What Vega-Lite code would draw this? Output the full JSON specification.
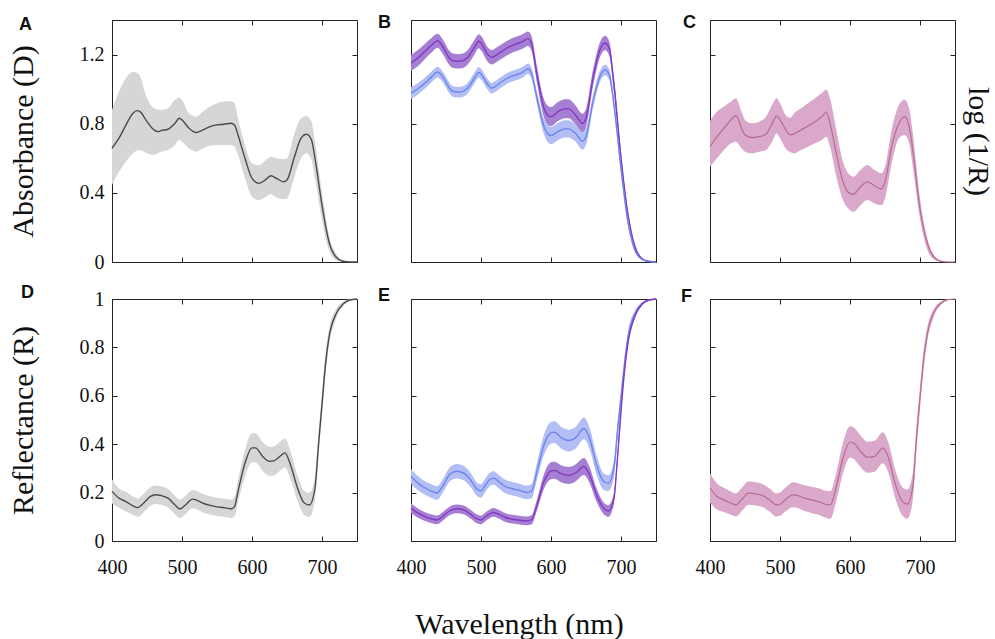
{
"$schema": "https://vega.github.io/schema/vega-lite/v6.json",
"background": "white",
"padding": {"left": 7, "top": 13, "right": 3, "bottom": 5},
"config": {
  "view": {"stroke": "#222", "strokeWidth": 1},
  "axis": {"domain": false, "grid": false, "tickSize": -5, "tickColor": "#222", "labelFlush": false, "labelFont": "Liberation Serif", "labelFontSize": 20, "labelColor": "#111", "labelPadding": 13, "titleFont": "Liberation Serif", "titleFontSize": 30, "titleFontWeight": "normal", "titleColor": "#111"},
  "title": {"font": "Liberation Sans", "fontSize": 18, "fontWeight": "bold", "anchor": "start", "frame": "group", "color": "#111"}
},
"datasets": {
"A": [
{"s":"g","wl":400,"m":0.658,"hi":0.880,"lo":0.445},
{"s":"g","wl":410,"m":0.716,"hi":0.986,"lo":0.522},
{"s":"g","wl":420,"m":0.793,"hi":1.064,"lo":0.580},
{"s":"g","wl":430,"m":0.861,"hi":1.099,"lo":0.629},
{"s":"g","wl":436,"m":0.876,"hi":1.095,"lo":0.645},
{"s":"g","wl":440,"m":0.870,"hi":1.074,"lo":0.648},
{"s":"g","wl":450,"m":0.812,"hi":0.948,"lo":0.629},
{"s":"g","wl":460,"m":0.764,"hi":0.890,"lo":0.619},
{"s":"g","wl":466,"m":0.754,"hi":0.882,"lo":0.630},
{"s":"g","wl":470,"m":0.760,"hi":0.880,"lo":0.638},
{"s":"g","wl":480,"m":0.768,"hi":0.890,"lo":0.648},
{"s":"g","wl":490,"m":0.803,"hi":0.938,"lo":0.677},
{"s":"g","wl":496,"m":0.832,"hi":0.952,"lo":0.706},
{"s":"g","wl":500,"m":0.822,"hi":0.938,"lo":0.696},
{"s":"g","wl":510,"m":0.774,"hi":0.861,"lo":0.658},
{"s":"g","wl":520,"m":0.749,"hi":0.841,"lo":0.638},
{"s":"g","wl":530,"m":0.764,"hi":0.870,"lo":0.658},
{"s":"g","wl":540,"m":0.783,"hi":0.899,"lo":0.673},
{"s":"g","wl":550,"m":0.793,"hi":0.919,"lo":0.677},
{"s":"g","wl":560,"m":0.797,"hi":0.928,"lo":0.677},
{"s":"g","wl":570,"m":0.803,"hi":0.932,"lo":0.677},
{"s":"g","wl":575,"m":0.793,"hi":0.919,"lo":0.667},
{"s":"g","wl":580,"m":0.735,"hi":0.832,"lo":0.619},
{"s":"g","wl":590,"m":0.600,"hi":0.677,"lo":0.484},
{"s":"g","wl":600,"m":0.484,"hi":0.571,"lo":0.377},
{"s":"g","wl":610,"m":0.455,"hi":0.561,"lo":0.358},
{"s":"g","wl":620,"m":0.478,"hi":0.590,"lo":0.377},
{"s":"g","wl":627,"m":0.499,"hi":0.609,"lo":0.393},
{"s":"g","wl":635,"m":0.484,"hi":0.600,"lo":0.372},
{"s":"g","wl":645,"m":0.464,"hi":0.595,"lo":0.365},
{"s":"g","wl":650,"m":0.474,"hi":0.600,"lo":0.368},
{"s":"g","wl":660,"m":0.600,"hi":0.735,"lo":0.484},
{"s":"g","wl":670,"m":0.716,"hi":0.832,"lo":0.600},
{"s":"g","wl":678,"m":0.739,"hi":0.845,"lo":0.629},
{"s":"g","wl":685,"m":0.706,"hi":0.812,"lo":0.590},
{"s":"g","wl":690,"m":0.600,"hi":0.696,"lo":0.484},
{"s":"g","wl":700,"m":0.329,"hi":0.406,"lo":0.242},
{"s":"g","wl":710,"m":0.116,"hi":0.155,"lo":0.068},
{"s":"g","wl":720,"m":0.029,"hi":0.048,"lo":0.010},
{"s":"g","wl":730,"m":0.004,"hi":0.010,"lo":0.000},
{"s":"g","wl":740,"m":0.000,"hi":0.002,"lo":0.000},
{"s":"g","wl":750,"m":0.000,"hi":0.000,"lo":0.000}
],
"B": [
{"s":"p","wl":400,"m":1.151,"hi":1.199,"lo":1.103},
{"s":"p","wl":410,"m":1.180,"hi":1.226,"lo":1.134},
{"s":"p","wl":420,"m":1.219,"hi":1.263,"lo":1.175},
{"s":"p","wl":430,"m":1.257,"hi":1.299,"lo":1.215},
{"s":"p","wl":438,"m":1.280,"hi":1.320,"lo":1.240},
{"s":"p","wl":445,"m":1.248,"hi":1.290,"lo":1.206},
{"s":"p","wl":455,"m":1.180,"hi":1.222,"lo":1.138},
{"s":"p","wl":460,"m":1.164,"hi":1.206,"lo":1.122},
{"s":"p","wl":470,"m":1.161,"hi":1.203,"lo":1.119},
{"s":"p","wl":480,"m":1.180,"hi":1.222,"lo":1.138},
{"s":"p","wl":490,"m":1.238,"hi":1.280,"lo":1.196},
{"s":"p","wl":497,"m":1.277,"hi":1.317,"lo":1.237},
{"s":"p","wl":500,"m":1.267,"hi":1.309,"lo":1.225},
{"s":"p","wl":510,"m":1.199,"hi":1.241,"lo":1.157},
{"s":"p","wl":515,"m":1.184,"hi":1.226,"lo":1.142},
{"s":"p","wl":520,"m":1.193,"hi":1.235,"lo":1.151},
{"s":"p","wl":530,"m":1.219,"hi":1.261,"lo":1.177},
{"s":"p","wl":540,"m":1.244,"hi":1.286,"lo":1.202},
{"s":"p","wl":550,"m":1.261,"hi":1.303,"lo":1.219},
{"s":"p","wl":560,"m":1.277,"hi":1.319,"lo":1.235},
{"s":"p","wl":567,"m":1.292,"hi":1.334,"lo":1.250},
{"s":"p","wl":572,"m":1.267,"hi":1.310,"lo":1.224},
{"s":"p","wl":580,"m":1.083,"hi":1.130,"lo":1.036},
{"s":"p","wl":590,"m":0.890,"hi":0.942,"lo":0.838},
{"s":"p","wl":595,"m":0.851,"hi":0.906,"lo":0.796},
{"s":"p","wl":600,"m":0.841,"hi":0.896,"lo":0.786},
{"s":"p","wl":610,"m":0.870,"hi":0.925,"lo":0.815},
{"s":"p","wl":620,"m":0.886,"hi":0.941,"lo":0.831},
{"s":"p","wl":625,"m":0.886,"hi":0.941,"lo":0.831},
{"s":"p","wl":635,"m":0.851,"hi":0.906,"lo":0.796},
{"s":"p","wl":645,"m":0.803,"hi":0.858,"lo":0.748},
{"s":"p","wl":650,"m":0.832,"hi":0.885,"lo":0.779},
{"s":"p","wl":660,"m":1.064,"hi":1.112,"lo":1.016},
{"s":"p","wl":670,"m":1.228,"hi":1.272,"lo":1.184},
{"s":"p","wl":677,"m":1.267,"hi":1.309,"lo":1.225},
{"s":"p","wl":683,"m":1.238,"hi":1.280,"lo":1.196},
{"s":"p","wl":690,"m":1.025,"hi":1.070,"lo":0.980},
{"s":"p","wl":700,"m":0.600,"hi":0.640,"lo":0.560},
{"s":"p","wl":710,"m":0.271,"hi":0.300,"lo":0.242},
{"s":"p","wl":720,"m":0.087,"hi":0.102,"lo":0.072},
{"s":"p","wl":730,"m":0.019,"hi":0.024,"lo":0.014},
{"s":"p","wl":740,"m":0.004,"hi":0.005,"lo":0.003},
{"s":"p","wl":750,"m":0.000,"hi":0.000,"lo":0.000},
{"s":"b","wl":400,"m":0.977,"hi":1.011,"lo":0.943},
{"s":"b","wl":410,"m":1.002,"hi":1.035,"lo":0.969},
{"s":"b","wl":420,"m":1.035,"hi":1.067,"lo":1.003},
{"s":"b","wl":430,"m":1.074,"hi":1.105,"lo":1.043},
{"s":"b","wl":438,"m":1.099,"hi":1.130,"lo":1.068},
{"s":"b","wl":445,"m":1.074,"hi":1.105,"lo":1.043},
{"s":"b","wl":455,"m":1.006,"hi":1.037,"lo":0.975},
{"s":"b","wl":460,"m":0.986,"hi":1.017,"lo":0.955},
{"s":"b","wl":470,"m":0.983,"hi":1.014,"lo":0.952},
{"s":"b","wl":480,"m":1.002,"hi":1.033,"lo":0.971},
{"s":"b","wl":490,"m":1.060,"hi":1.091,"lo":1.029},
{"s":"b","wl":497,"m":1.097,"hi":1.128,"lo":1.066},
{"s":"b","wl":500,"m":1.087,"hi":1.118,"lo":1.056},
{"s":"b","wl":510,"m":1.025,"hi":1.056,"lo":0.994},
{"s":"b","wl":515,"m":1.006,"hi":1.037,"lo":0.975},
{"s":"b","wl":520,"m":1.015,"hi":1.046,"lo":0.984},
{"s":"b","wl":530,"m":1.044,"hi":1.075,"lo":1.013},
{"s":"b","wl":540,"m":1.068,"hi":1.099,"lo":1.037},
{"s":"b","wl":550,"m":1.083,"hi":1.114,"lo":1.052},
{"s":"b","wl":560,"m":1.099,"hi":1.130,"lo":1.068},
{"s":"b","wl":567,"m":1.118,"hi":1.149,"lo":1.087},
{"s":"b","wl":572,"m":1.093,"hi":1.125,"lo":1.061},
{"s":"b","wl":580,"m":0.948,"hi":0.985,"lo":0.911},
{"s":"b","wl":590,"m":0.783,"hi":0.828,"lo":0.738},
{"s":"b","wl":595,"m":0.745,"hi":0.795,"lo":0.695},
{"s":"b","wl":600,"m":0.731,"hi":0.781,"lo":0.681},
{"s":"b","wl":610,"m":0.754,"hi":0.804,"lo":0.704},
{"s":"b","wl":620,"m":0.770,"hi":0.820,"lo":0.720},
{"s":"b","wl":625,"m":0.770,"hi":0.820,"lo":0.720},
{"s":"b","wl":635,"m":0.745,"hi":0.795,"lo":0.695},
{"s":"b","wl":645,"m":0.700,"hi":0.750,"lo":0.650},
{"s":"b","wl":650,"m":0.725,"hi":0.773,"lo":0.677},
{"s":"b","wl":660,"m":0.928,"hi":0.965,"lo":0.891},
{"s":"b","wl":670,"m":1.074,"hi":1.106,"lo":1.042},
{"s":"b","wl":677,"m":1.112,"hi":1.143,"lo":1.081},
{"s":"b","wl":683,"m":1.087,"hi":1.118,"lo":1.056},
{"s":"b","wl":690,"m":0.909,"hi":0.945,"lo":0.873},
{"s":"b","wl":700,"m":0.542,"hi":0.577,"lo":0.507},
{"s":"b","wl":710,"m":0.232,"hi":0.257,"lo":0.207},
{"s":"b","wl":720,"m":0.068,"hi":0.080,"lo":0.056},
{"s":"b","wl":730,"m":0.015,"hi":0.019,"lo":0.011},
{"s":"b","wl":740,"m":0.002,"hi":0.003,"lo":0.001},
{"s":"b","wl":750,"m":0.000,"hi":0.000,"lo":0.000}
],
"C": [
{"s":"k","wl":400,"m":0.667,"hi":0.815,"lo":0.551},
{"s":"k","wl":410,"m":0.725,"hi":0.870,"lo":0.600},
{"s":"k","wl":420,"m":0.774,"hi":0.900,"lo":0.648},
{"s":"k","wl":430,"m":0.822,"hi":0.928,"lo":0.687},
{"s":"k","wl":437,"m":0.847,"hi":0.948,"lo":0.696},
{"s":"k","wl":445,"m":0.774,"hi":0.870,"lo":0.658},
{"s":"k","wl":450,"m":0.735,"hi":0.822,"lo":0.638},
{"s":"k","wl":460,"m":0.720,"hi":0.803,"lo":0.629},
{"s":"k","wl":470,"m":0.725,"hi":0.812,"lo":0.638},
{"s":"k","wl":480,"m":0.739,"hi":0.841,"lo":0.648},
{"s":"k","wl":490,"m":0.812,"hi":0.919,"lo":0.706},
{"s":"k","wl":495,"m":0.845,"hi":0.948,"lo":0.745},
{"s":"k","wl":500,"m":0.822,"hi":0.919,"lo":0.716},
{"s":"k","wl":510,"m":0.754,"hi":0.841,"lo":0.648},
{"s":"k","wl":515,"m":0.735,"hi":0.835,"lo":0.635},
{"s":"k","wl":520,"m":0.741,"hi":0.861,"lo":0.629},
{"s":"k","wl":530,"m":0.764,"hi":0.890,"lo":0.648},
{"s":"k","wl":540,"m":0.787,"hi":0.919,"lo":0.667},
{"s":"k","wl":550,"m":0.812,"hi":0.948,"lo":0.687},
{"s":"k","wl":560,"m":0.841,"hi":0.977,"lo":0.706},
{"s":"k","wl":566,"m":0.865,"hi":0.996,"lo":0.725},
{"s":"k","wl":572,"m":0.793,"hi":0.938,"lo":0.658},
{"s":"k","wl":580,"m":0.638,"hi":0.774,"lo":0.503},
{"s":"k","wl":590,"m":0.464,"hi":0.580,"lo":0.358},
{"s":"k","wl":600,"m":0.397,"hi":0.503,"lo":0.300},
{"s":"k","wl":605,"m":0.393,"hi":0.493,"lo":0.290},
{"s":"k","wl":615,"m":0.435,"hi":0.532,"lo":0.329},
{"s":"k","wl":625,"m":0.464,"hi":0.561,"lo":0.358},
{"s":"k","wl":635,"m":0.441,"hi":0.532,"lo":0.339},
{"s":"k","wl":645,"m":0.422,"hi":0.513,"lo":0.329},
{"s":"k","wl":650,"m":0.464,"hi":0.551,"lo":0.368},
{"s":"k","wl":660,"m":0.677,"hi":0.774,"lo":0.580},
{"s":"k","wl":670,"m":0.803,"hi":0.909,"lo":0.716},
{"s":"k","wl":678,"m":0.841,"hi":0.938,"lo":0.735},
{"s":"k","wl":685,"m":0.774,"hi":0.880,"lo":0.677},
{"s":"k","wl":690,"m":0.638,"hi":0.735,"lo":0.542},
{"s":"k","wl":700,"m":0.309,"hi":0.368,"lo":0.251},
{"s":"k","wl":710,"m":0.116,"hi":0.145,"lo":0.077},
{"s":"k","wl":720,"m":0.029,"hi":0.039,"lo":0.015},
{"s":"k","wl":730,"m":0.004,"hi":0.008,"lo":0.002},
{"s":"k","wl":740,"m":0.000,"hi":0.001,"lo":0.000},
{"s":"k","wl":750,"m":0.000,"hi":0.000,"lo":0.000}
],
"D": [
{"s":"g","wl":400,"m":0.205,"hi":0.255,"lo":0.155},
{"s":"g","wl":410,"m":0.177,"hi":0.217,"lo":0.137},
{"s":"g","wl":420,"m":0.163,"hi":0.203,"lo":0.123},
{"s":"g","wl":430,"m":0.145,"hi":0.183,"lo":0.107},
{"s":"g","wl":437,"m":0.138,"hi":0.176,"lo":0.100},
{"s":"g","wl":445,"m":0.156,"hi":0.194,"lo":0.118},
{"s":"g","wl":455,"m":0.184,"hi":0.222,"lo":0.146},
{"s":"g","wl":462,"m":0.191,"hi":0.229,"lo":0.153},
{"s":"g","wl":470,"m":0.188,"hi":0.226,"lo":0.150},
{"s":"g","wl":480,"m":0.177,"hi":0.215,"lo":0.139},
{"s":"g","wl":490,"m":0.149,"hi":0.187,"lo":0.111},
{"s":"g","wl":497,"m":0.133,"hi":0.171,"lo":0.095},
{"s":"g","wl":505,"m":0.149,"hi":0.187,"lo":0.111},
{"s":"g","wl":515,"m":0.173,"hi":0.211,"lo":0.135},
{"s":"g","wl":520,"m":0.170,"hi":0.208,"lo":0.132},
{"s":"g","wl":530,"m":0.156,"hi":0.194,"lo":0.118},
{"s":"g","wl":540,"m":0.147,"hi":0.185,"lo":0.109},
{"s":"g","wl":550,"m":0.141,"hi":0.179,"lo":0.103},
{"s":"g","wl":560,"m":0.138,"hi":0.176,"lo":0.100},
{"s":"g","wl":570,"m":0.133,"hi":0.171,"lo":0.095},
{"s":"g","wl":575,"m":0.142,"hi":0.182,"lo":0.102},
{"s":"g","wl":580,"m":0.205,"hi":0.250,"lo":0.160},
{"s":"g","wl":590,"m":0.322,"hi":0.377,"lo":0.267},
{"s":"g","wl":600,"m":0.385,"hi":0.445,"lo":0.325},
{"s":"g","wl":605,"m":0.385,"hi":0.445,"lo":0.325},
{"s":"g","wl":615,"m":0.350,"hi":0.410,"lo":0.290},
{"s":"g","wl":625,"m":0.329,"hi":0.389,"lo":0.269},
{"s":"g","wl":632,"m":0.332,"hi":0.392,"lo":0.272},
{"s":"g","wl":640,"m":0.350,"hi":0.410,"lo":0.290},
{"s":"g","wl":647,"m":0.364,"hi":0.424,"lo":0.304},
{"s":"g","wl":655,"m":0.315,"hi":0.372,"lo":0.258},
{"s":"g","wl":665,"m":0.219,"hi":0.272,"lo":0.166},
{"s":"g","wl":675,"m":0.156,"hi":0.206,"lo":0.106},
{"s":"g","wl":682,"m":0.149,"hi":0.199,"lo":0.099},
{"s":"g","wl":690,"m":0.219,"hi":0.265,"lo":0.173},
{"s":"g","wl":695,"m":0.398,"hi":0.448,"lo":0.348},
{"s":"g","wl":700,"m":0.564,"hi":0.614,"lo":0.514},
{"s":"g","wl":705,"m":0.730,"hi":0.775,"lo":0.685},
{"s":"g","wl":710,"m":0.841,"hi":0.876,"lo":0.806},
{"s":"g","wl":720,"m":0.938,"hi":0.958,"lo":0.918},
{"s":"g","wl":730,"m":0.979,"hi":0.989,"lo":0.969},
{"s":"g","wl":740,"m":0.996,"hi":0.999,"lo":0.993},
{"s":"g","wl":750,"m":1.000,"hi":1.000,"lo":1.000}
],
"E": [
{"s":"b","wl":400,"m":0.267,"hi":0.297,"lo":0.237},
{"s":"b","wl":410,"m":0.239,"hi":0.268,"lo":0.210},
{"s":"b","wl":420,"m":0.219,"hi":0.247,"lo":0.191},
{"s":"b","wl":430,"m":0.205,"hi":0.233,"lo":0.177},
{"s":"b","wl":437,"m":0.198,"hi":0.226,"lo":0.170},
{"s":"b","wl":445,"m":0.225,"hi":0.253,"lo":0.197},
{"s":"b","wl":455,"m":0.274,"hi":0.303,"lo":0.245},
{"s":"b","wl":465,"m":0.288,"hi":0.318,"lo":0.258},
{"s":"b","wl":475,"m":0.281,"hi":0.311,"lo":0.251},
{"s":"b","wl":485,"m":0.253,"hi":0.282,"lo":0.224},
{"s":"b","wl":495,"m":0.212,"hi":0.240,"lo":0.184},
{"s":"b","wl":500,"m":0.207,"hi":0.235,"lo":0.179},
{"s":"b","wl":505,"m":0.225,"hi":0.253,"lo":0.197},
{"s":"b","wl":512,"m":0.253,"hi":0.281,"lo":0.225},
{"s":"b","wl":518,"m":0.260,"hi":0.288,"lo":0.232},
{"s":"b","wl":525,"m":0.246,"hi":0.274,"lo":0.218},
{"s":"b","wl":535,"m":0.225,"hi":0.253,"lo":0.197},
{"s":"b","wl":545,"m":0.216,"hi":0.244,"lo":0.188},
{"s":"b","wl":555,"m":0.209,"hi":0.237,"lo":0.181},
{"s":"b","wl":565,"m":0.201,"hi":0.229,"lo":0.173},
{"s":"b","wl":572,"m":0.205,"hi":0.234,"lo":0.176},
{"s":"b","wl":580,"m":0.288,"hi":0.323,"lo":0.253},
{"s":"b","wl":590,"m":0.398,"hi":0.440,"lo":0.356},
{"s":"b","wl":600,"m":0.447,"hi":0.492,"lo":0.402},
{"s":"b","wl":605,"m":0.450,"hi":0.495,"lo":0.405},
{"s":"b","wl":615,"m":0.426,"hi":0.471,"lo":0.381},
{"s":"b","wl":625,"m":0.415,"hi":0.460,"lo":0.370},
{"s":"b","wl":635,"m":0.426,"hi":0.471,"lo":0.381},
{"s":"b","wl":647,"m":0.465,"hi":0.510,"lo":0.420},
{"s":"b","wl":655,"m":0.426,"hi":0.470,"lo":0.382},
{"s":"b","wl":665,"m":0.315,"hi":0.355,"lo":0.275},
{"s":"b","wl":675,"m":0.246,"hi":0.280,"lo":0.212},
{"s":"b","wl":682,"m":0.239,"hi":0.272,"lo":0.206},
{"s":"b","wl":690,"m":0.302,"hi":0.337,"lo":0.267},
{"s":"b","wl":695,"m":0.454,"hi":0.489,"lo":0.419},
{"s":"b","wl":700,"m":0.592,"hi":0.625,"lo":0.559},
{"s":"b","wl":705,"m":0.730,"hi":0.760,"lo":0.700},
{"s":"b","wl":710,"m":0.841,"hi":0.866,"lo":0.816},
{"s":"b","wl":720,"m":0.938,"hi":0.953,"lo":0.923},
{"s":"b","wl":730,"m":0.979,"hi":0.986,"lo":0.972},
{"s":"b","wl":740,"m":0.996,"hi":0.998,"lo":0.994},
{"s":"b","wl":750,"m":1.000,"hi":1.000,"lo":1.000},
{"s":"p","wl":400,"m":0.136,"hi":0.156,"lo":0.116},
{"s":"p","wl":410,"m":0.115,"hi":0.134,"lo":0.096},
{"s":"p","wl":420,"m":0.101,"hi":0.119,"lo":0.083},
{"s":"p","wl":430,"m":0.091,"hi":0.109,"lo":0.073},
{"s":"p","wl":437,"m":0.087,"hi":0.105,"lo":0.069},
{"s":"p","wl":445,"m":0.101,"hi":0.119,"lo":0.083},
{"s":"p","wl":455,"m":0.124,"hi":0.142,"lo":0.106},
{"s":"p","wl":465,"m":0.133,"hi":0.151,"lo":0.115},
{"s":"p","wl":475,"m":0.129,"hi":0.147,"lo":0.111},
{"s":"p","wl":485,"m":0.111,"hi":0.129,"lo":0.093},
{"s":"p","wl":495,"m":0.090,"hi":0.108,"lo":0.072},
{"s":"p","wl":500,"m":0.087,"hi":0.105,"lo":0.069},
{"s":"p","wl":505,"m":0.097,"hi":0.115,"lo":0.079},
{"s":"p","wl":512,"m":0.111,"hi":0.129,"lo":0.093},
{"s":"p","wl":518,"m":0.118,"hi":0.136,"lo":0.100},
{"s":"p","wl":525,"m":0.111,"hi":0.129,"lo":0.093},
{"s":"p","wl":535,"m":0.097,"hi":0.115,"lo":0.079},
{"s":"p","wl":545,"m":0.090,"hi":0.108,"lo":0.072},
{"s":"p","wl":555,"m":0.086,"hi":0.104,"lo":0.068},
{"s":"p","wl":565,"m":0.083,"hi":0.101,"lo":0.065},
{"s":"p","wl":572,"m":0.087,"hi":0.106,"lo":0.068},
{"s":"p","wl":580,"m":0.149,"hi":0.172,"lo":0.126},
{"s":"p","wl":590,"m":0.246,"hi":0.276,"lo":0.216},
{"s":"p","wl":600,"m":0.290,"hi":0.325,"lo":0.255},
{"s":"p","wl":605,"m":0.292,"hi":0.327,"lo":0.257},
{"s":"p","wl":615,"m":0.277,"hi":0.312,"lo":0.242},
{"s":"p","wl":625,"m":0.271,"hi":0.306,"lo":0.236},
{"s":"p","wl":635,"m":0.281,"hi":0.316,"lo":0.246},
{"s":"p","wl":647,"m":0.308,"hi":0.343,"lo":0.273},
{"s":"p","wl":655,"m":0.274,"hi":0.307,"lo":0.241},
{"s":"p","wl":665,"m":0.191,"hi":0.219,"lo":0.163},
{"s":"p","wl":675,"m":0.136,"hi":0.160,"lo":0.112},
{"s":"p","wl":682,"m":0.124,"hi":0.148,"lo":0.100},
{"s":"p","wl":690,"m":0.177,"hi":0.200,"lo":0.154},
{"s":"p","wl":695,"m":0.343,"hi":0.365,"lo":0.321},
{"s":"p","wl":700,"m":0.537,"hi":0.557,"lo":0.517},
{"s":"p","wl":705,"m":0.703,"hi":0.720,"lo":0.686},
{"s":"p","wl":710,"m":0.820,"hi":0.835,"lo":0.805},
{"s":"p","wl":720,"m":0.931,"hi":0.940,"lo":0.922},
{"s":"p","wl":730,"m":0.979,"hi":0.984,"lo":0.974},
{"s":"p","wl":740,"m":0.996,"hi":0.998,"lo":0.994},
{"s":"p","wl":750,"m":1.000,"hi":1.000,"lo":1.000}
],
"F": [
{"s":"k","wl":400,"m":0.219,"hi":0.280,"lo":0.158},
{"s":"k","wl":410,"m":0.184,"hi":0.238,"lo":0.130},
{"s":"k","wl":420,"m":0.170,"hi":0.220,"lo":0.120},
{"s":"k","wl":430,"m":0.156,"hi":0.204,"lo":0.108},
{"s":"k","wl":437,"m":0.149,"hi":0.197,"lo":0.101},
{"s":"k","wl":445,"m":0.170,"hi":0.218,"lo":0.122},
{"s":"k","wl":455,"m":0.198,"hi":0.246,"lo":0.150},
{"s":"k","wl":465,"m":0.195,"hi":0.243,"lo":0.147},
{"s":"k","wl":475,"m":0.188,"hi":0.236,"lo":0.140},
{"s":"k","wl":485,"m":0.170,"hi":0.218,"lo":0.122},
{"s":"k","wl":495,"m":0.149,"hi":0.197,"lo":0.101},
{"s":"k","wl":500,"m":0.152,"hi":0.200,"lo":0.104},
{"s":"k","wl":510,"m":0.177,"hi":0.227,"lo":0.127},
{"s":"k","wl":518,"m":0.191,"hi":0.243,"lo":0.139},
{"s":"k","wl":525,"m":0.188,"hi":0.240,"lo":0.136},
{"s":"k","wl":535,"m":0.177,"hi":0.230,"lo":0.124},
{"s":"k","wl":545,"m":0.170,"hi":0.224,"lo":0.116},
{"s":"k","wl":555,"m":0.163,"hi":0.218,"lo":0.108},
{"s":"k","wl":565,"m":0.152,"hi":0.208,"lo":0.096},
{"s":"k","wl":572,"m":0.149,"hi":0.206,"lo":0.092},
{"s":"k","wl":580,"m":0.219,"hi":0.278,"lo":0.160},
{"s":"k","wl":590,"m":0.343,"hi":0.406,"lo":0.280},
{"s":"k","wl":600,"m":0.409,"hi":0.474,"lo":0.344},
{"s":"k","wl":605,"m":0.405,"hi":0.470,"lo":0.340},
{"s":"k","wl":615,"m":0.371,"hi":0.436,"lo":0.306},
{"s":"k","wl":625,"m":0.346,"hi":0.410,"lo":0.282},
{"s":"k","wl":635,"m":0.350,"hi":0.414,"lo":0.286},
{"s":"k","wl":647,"m":0.385,"hi":0.449,"lo":0.321},
{"s":"k","wl":655,"m":0.343,"hi":0.405,"lo":0.281},
{"s":"k","wl":665,"m":0.232,"hi":0.290,"lo":0.174},
{"s":"k","wl":675,"m":0.163,"hi":0.222,"lo":0.104},
{"s":"k","wl":682,"m":0.152,"hi":0.212,"lo":0.092},
{"s":"k","wl":690,"m":0.232,"hi":0.288,"lo":0.176},
{"s":"k","wl":695,"m":0.426,"hi":0.476,"lo":0.376},
{"s":"k","wl":700,"m":0.592,"hi":0.637,"lo":0.547},
{"s":"k","wl":705,"m":0.744,"hi":0.784,"lo":0.704},
{"s":"k","wl":710,"m":0.848,"hi":0.878,"lo":0.818},
{"s":"k","wl":720,"m":0.945,"hi":0.960,"lo":0.930},
{"s":"k","wl":730,"m":0.983,"hi":0.990,"lo":0.976},
{"s":"k","wl":740,"m":0.997,"hi":0.999,"lo":0.995},
{"s":"k","wl":750,"m":1.000,"hi":1.000,"lo":1.000}
]
},
"columns": 3,
"spacing": {"row": 37, "column": 54},
"bounds": "flush",
"concat": [
{"width": 245, "height": 242, "title": {"text": "A", "dx": -93, "offset": -14}, "data": {"name": "A"},
 "resolve": {"axis": {"x": "independent", "y": "independent"}},
 "layer": [
  {"mark": {"type": "area", "interpolate": "monotone"}, "encoding": {
    "x": {"field": "wl", "type": "quantitative", "scale": {"domain": [400, 750], "nice": false}, "axis": {"orient": "bottom", "values": [400, 500, 600, 700], "labels": false, "title": null}},
    "y": {"field": "hi", "type": "quantitative", "scale": {"domain": [0, 1.4], "nice": false}, "axis": {"orient": "left", "values": [0, 0.4, 0.8, 1.2], "format": ".1~f", "title": "Absorbance (D)", "titlePadding": 41}},
    "y2": {"field": "lo"},
    "fill": {"field": "s", "type": "nominal", "scale": {"domain": ["g", "p", "b", "k"], "range": ["#d6d6d6", "#a67fd3", "#b3bef5", "#d9a8cb"]}, "legend": null}}},
  {"mark": {"type": "line", "interpolate": "monotone", "strokeWidth": 1.4}, "encoding": {
    "x": {"field": "wl", "type": "quantitative", "scale": {"domain": [400, 750], "nice": false}, "axis": {"orient": "top", "values": [400, 500, 600, 700], "labels": false, "title": null}},
    "y": {"field": "m", "type": "quantitative", "scale": {"domain": [0, 1.4], "nice": false}, "axis": {"orient": "right", "values": [0, 0.4, 0.8, 1.2], "labels": false, "title": null}},
    "stroke": {"field": "s", "type": "nominal", "scale": {"domain": ["g", "p", "b", "k"], "range": ["#4a4a4a", "#8338c4", "#6b86ee", "#b86b8f"]}, "legend": null}}}
 ]},
{"width": 245, "height": 242, "title": {"text": "B", "dx": -33, "offset": -12}, "data": {"name": "B"},
 "resolve": {"axis": {"x": "independent", "y": "independent"}},
 "layer": [
  {"mark": {"type": "area", "interpolate": "monotone"}, "encoding": {
    "x": {"field": "wl", "type": "quantitative", "scale": {"domain": [400, 750], "nice": false}, "axis": {"orient": "bottom", "values": [400, 500, 600, 700], "labels": false, "title": null}},
    "y": {"field": "hi", "type": "quantitative", "scale": {"domain": [0, 1.4], "nice": false}, "axis": {"orient": "left", "values": [0, 0.4, 0.8, 1.2], "labels": false, "title": null}},
    "y2": {"field": "lo"},
    "fill": {"field": "s", "type": "nominal", "scale": {"domain": ["g", "p", "b", "k"], "range": ["#d6d6d6", "#a67fd3", "#b3bef5", "#d9a8cb"]}, "legend": null}}},
  {"mark": {"type": "line", "interpolate": "monotone", "strokeWidth": 1.4}, "encoding": {
    "x": {"field": "wl", "type": "quantitative", "scale": {"domain": [400, 750], "nice": false}, "axis": {"orient": "top", "values": [400, 500, 600, 700], "labels": false, "title": null}},
    "y": {"field": "m", "type": "quantitative", "scale": {"domain": [0, 1.4], "nice": false}, "axis": {"orient": "right", "values": [0, 0.4, 0.8, 1.2], "labels": false, "title": null}},
    "stroke": {"field": "s", "type": "nominal", "scale": {"domain": ["g", "p", "b", "k"], "range": ["#4a4a4a", "#8338c4", "#6b86ee", "#b86b8f"]}, "legend": null}}}
 ]},
{"width": 245, "height": 242, "title": {"text": "C", "dx": -27, "offset": -12}, "data": {"name": "C"},
 "resolve": {"axis": {"x": "independent", "y": "independent"}},
 "layer": [
  {"mark": {"type": "area", "interpolate": "monotone"}, "encoding": {
    "x": {"field": "wl", "type": "quantitative", "scale": {"domain": [400, 750], "nice": false}, "axis": {"orient": "bottom", "values": [400, 500, 600, 700], "labels": false, "title": null}},
    "y": {"field": "hi", "type": "quantitative", "scale": {"domain": [0, 1.4], "nice": false}, "axis": {"orient": "left", "values": [0, 0.4, 0.8, 1.2], "labels": false, "title": null}},
    "y2": {"field": "lo"},
    "fill": {"field": "s", "type": "nominal", "scale": {"domain": ["g", "p", "b", "k"], "range": ["#d6d6d6", "#a67fd3", "#b3bef5", "#d9a8cb"]}, "legend": null}}},
  {"mark": {"type": "line", "interpolate": "monotone", "strokeWidth": 1.2}, "encoding": {
    "x": {"field": "wl", "type": "quantitative", "scale": {"domain": [400, 750], "nice": false}, "axis": {"orient": "top", "values": [400, 500, 600, 700], "labels": false, "title": null}},
    "y": {"field": "m", "type": "quantitative", "scale": {"domain": [0, 1.4], "nice": false}, "axis": {"orient": "right", "values": [0, 0.4, 0.8, 1.2], "labels": false, "title": "log (1/R)", "titlePadding": 7}},
    "stroke": {"field": "s", "type": "nominal", "scale": {"domain": ["g", "p", "b", "k"], "range": ["#4a4a4a", "#8338c4", "#6b86ee", "#b86b8f"]}, "legend": null}}}
 ]},
{"width": 245, "height": 242, "title": {"text": "D", "dx": -91, "offset": -13}, "data": {"name": "D"},
 "resolve": {"axis": {"x": "independent", "y": "independent"}},
 "layer": [
  {"mark": {"type": "area", "interpolate": "monotone"}, "encoding": {
    "x": {"field": "wl", "type": "quantitative", "scale": {"domain": [400, 750], "nice": false}, "axis": {"orient": "bottom", "values": [400, 500, 600, 700], "labelPadding": 21, "title": null}},
    "y": {"field": "hi", "type": "quantitative", "scale": {"domain": [0, 1], "nice": false}, "axis": {"orient": "left", "values": [0, 0.2, 0.4, 0.6, 0.8, 1], "format": ".1~f", "title": "Reflectance (R)", "titlePadding": 41}},
    "y2": {"field": "lo"},
    "fill": {"field": "s", "type": "nominal", "scale": {"domain": ["g", "p", "b", "k"], "range": ["#d6d6d6", "#a67fd3", "#b3bef5", "#d9a8cb"]}, "legend": null}}},
  {"mark": {"type": "line", "interpolate": "monotone", "strokeWidth": 1.4}, "encoding": {
    "x": {"field": "wl", "type": "quantitative", "scale": {"domain": [400, 750], "nice": false}, "axis": {"orient": "top", "values": [400, 500, 600, 700], "labels": false, "title": null}},
    "y": {"field": "m", "type": "quantitative", "scale": {"domain": [0, 1], "nice": false}, "axis": {"orient": "right", "values": [0, 0.2, 0.4, 0.6, 0.8, 1], "labels": false, "title": null}},
    "stroke": {"field": "s", "type": "nominal", "scale": {"domain": ["g", "p", "b", "k"], "range": ["#4a4a4a", "#8338c4", "#6b86ee", "#b86b8f"]}, "legend": null}}}
 ]},
{"width": 245, "height": 242, "title": {"text": "E", "dx": -33, "offset": -9}, "data": {"name": "E"},
 "resolve": {"axis": {"x": "independent", "y": "independent"}},
 "layer": [
  {"mark": {"type": "area", "interpolate": "monotone"}, "encoding": {
    "x": {"field": "wl", "type": "quantitative", "scale": {"domain": [400, 750], "nice": false}, "axis": {"orient": "bottom", "values": [400, 500, 600, 700], "labelPadding": 21, "title": "Wavelength (nm)", "titleX": 108, "titleY": 92, "titleBaseline": "alphabetic"}},
    "y": {"field": "hi", "type": "quantitative", "scale": {"domain": [0, 1], "nice": false}, "axis": {"orient": "left", "values": [0, 0.2, 0.4, 0.6, 0.8, 1], "labels": false, "title": null}},
    "y2": {"field": "lo"},
    "fill": {"field": "s", "type": "nominal", "scale": {"domain": ["g", "p", "b", "k"], "range": ["#d6d6d6", "#a67fd3", "#b3bef5", "#d9a8cb"]}, "legend": null}}},
  {"mark": {"type": "line", "interpolate": "monotone", "strokeWidth": 1.4}, "encoding": {
    "x": {"field": "wl", "type": "quantitative", "scale": {"domain": [400, 750], "nice": false}, "axis": {"orient": "top", "values": [400, 500, 600, 700], "labels": false, "title": null}},
    "y": {"field": "m", "type": "quantitative", "scale": {"domain": [0, 1], "nice": false}, "axis": {"orient": "right", "values": [0, 0.2, 0.4, 0.6, 0.8, 1], "labels": false, "title": null}},
    "stroke": {"field": "s", "type": "nominal", "scale": {"domain": ["g", "p", "b", "k"], "range": ["#4a4a4a", "#8338c4", "#6b86ee", "#b86b8f"]}, "legend": null}}}
 ]},
{"width": 245, "height": 242, "title": {"text": "F", "dx": -29, "offset": -9}, "data": {"name": "F"},
 "resolve": {"axis": {"x": "independent", "y": "independent"}},
 "layer": [
  {"mark": {"type": "area", "interpolate": "monotone"}, "encoding": {
    "x": {"field": "wl", "type": "quantitative", "scale": {"domain": [400, 750], "nice": false}, "axis": {"orient": "bottom", "values": [400, 500, 600, 700], "labelPadding": 21, "title": null}},
    "y": {"field": "hi", "type": "quantitative", "scale": {"domain": [0, 1], "nice": false}, "axis": {"orient": "left", "values": [0, 0.2, 0.4, 0.6, 0.8, 1], "labels": false, "title": null}},
    "y2": {"field": "lo"},
    "fill": {"field": "s", "type": "nominal", "scale": {"domain": ["g", "p", "b", "k"], "range": ["#d6d6d6", "#a67fd3", "#b3bef5", "#d9a8cb"]}, "legend": null}}},
  {"mark": {"type": "line", "interpolate": "monotone", "strokeWidth": 1.2}, "encoding": {
    "x": {"field": "wl", "type": "quantitative", "scale": {"domain": [400, 750], "nice": false}, "axis": {"orient": "top", "values": [400, 500, 600, 700], "labels": false, "title": null}},
    "y": {"field": "m", "type": "quantitative", "scale": {"domain": [0, 1], "nice": false}, "axis": {"orient": "right", "values": [0, 0.2, 0.4, 0.6, 0.8, 1], "labels": false, "title": null}},
    "stroke": {"field": "s", "type": "nominal", "scale": {"domain": ["g", "p", "b", "k"], "range": ["#4a4a4a", "#8338c4", "#6b86ee", "#b86b8f"]}, "legend": null}}}
 ]}
]
}
